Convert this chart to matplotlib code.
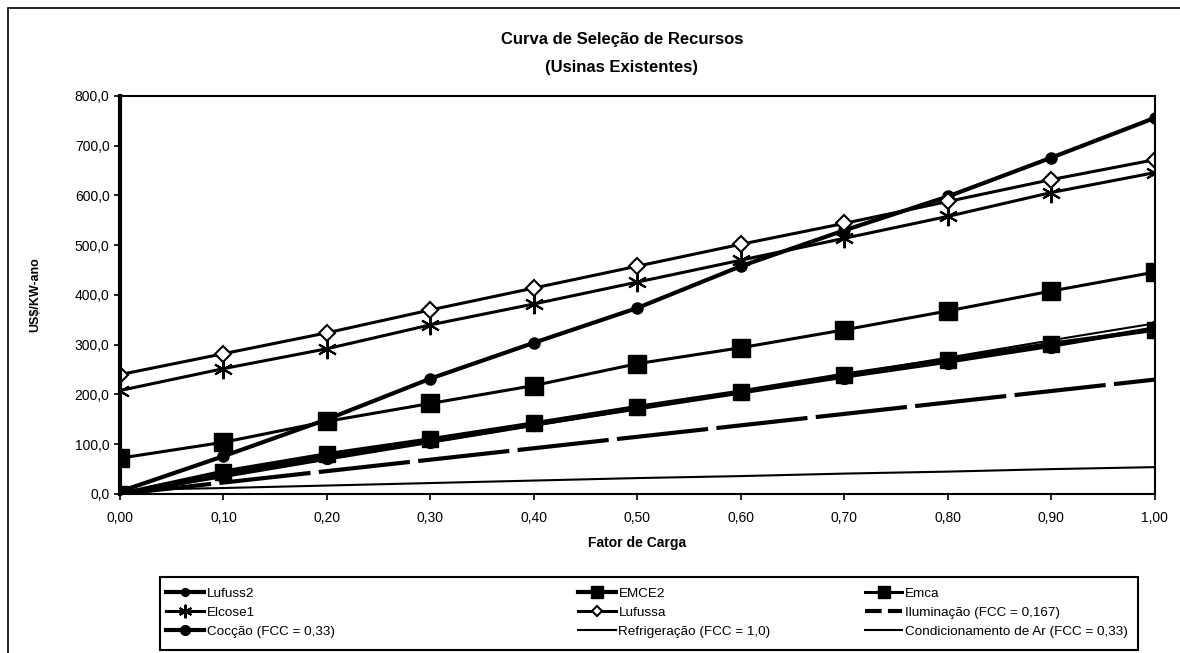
import matplotlib
matplotlib.use("Agg")
import matplotlib.pyplot as plt
from matplotlib.ticker import FuncFormatter
from matplotlib.patches import Rectangle
from matplotlib.lines import Line2D

plt.rcParams['font.family'] = ['Liberation Sans', 'DejaVu Sans']

# Fator de carga
fc = [0.0, 0.1, 0.2, 0.3, 0.4, 0.5, 0.6, 0.7, 0.8, 0.9, 1.0]

# US$/kW-ano
lufuss2 = [5, 76, 150, 232, 304, 374, 458, 530, 598, 676, 756]
emce2 = [0, 45, 80, 110, 142, 175, 206, 240, 270, 302, 330]
emca = [72, 104, 146, 182, 218, 262, 294, 330, 368, 408, 446]
elcose1 = [208, 252, 292, 340, 382, 426, 470, 514, 558, 606, 646]
lufussa = [240, 282, 324, 370, 414, 458, 502, 544, 588, 632, 672]
iluminacao = [0, 23, 46, 69, 92, 115, 138, 161, 184, 207, 230]
coccao = [0, 38, 74, 106, 140, 172, 204, 236, 266, 298, 333]
refrigeracao = [8, 12, 17, 22, 27, 32, 36, 41, 45, 50, 54]
condicionamento = [0, 34, 69, 103, 137, 171, 206, 240, 274, 309, 343]

fig = plt.figure(figsize=(11.8, 6.53), dpi=100)
ax = fig.add_axes([0.1017, 0.2435, 0.877, 0.6095])

# Plot each series
l1, = ax.plot(fc, lufuss2, color='black', lw=3, marker='o', ms=8, label='Lufuss2')
l2, = ax.plot(fc, emce2, color='black', lw=3, marker='s', ms=12, label='EMCE2')
l3, = ax.plot(fc, emca, color='black', lw=2.2, marker='s', ms=13, label='Emca')
l4, = ax.plot(fc, elcose1, color='black', lw=2.2, marker=(6, 2, 0), ms=14, mew=1.5, label='Elcose1')
l5, = ax.plot(fc, lufussa, color='black', lw=2.2, marker='D', ms=8, mfc='white', mew=1.5, label='Lufussa')
ax.plot(fc, iluminacao, color='black', lw=3, ls=(0, (22, 2)))
l7, = ax.plot(fc, coccao, color='black', lw=3, marker='o', ms=10, label='Cocção (FCC = 0,33)')
l8, = ax.plot(fc, refrigeracao, color='black', lw=1.5, label='Refrigeração (FCC = 1,0)')
l9, = ax.plot(fc, condicionamento, color='black', lw=1.5, label='Condicionamento de Ar (FCC = 0,33)')
# legend proxy with shorter dashes so the dash shows in the small key
l6 = Line2D([], [], color='black', lw=3, ls=(0, (4, 1.5)), label='Iluminação (FCC = 0,167)')

ax.set_xlim(0, 1.0)
ax.set_ylim(0, 800)
ax.set_xticks(fc)
ax.set_yticks(range(0, 801, 100))
ax.xaxis.set_major_formatter(FuncFormatter(lambda v, p: f'{v:.2f}'.replace('.', ',')))
ax.yaxis.set_major_formatter(FuncFormatter(lambda v, p: f'{v:.1f}'.replace('.', ',')))
ax.tick_params(axis='both', labelsize=10, direction='out', length=4, width=1.2)
ax.tick_params(axis='x', pad=8)
for s in ax.spines.values():
    s.set_linewidth(1.5)
ax.spines['left'].set_linewidth(3)

ax.set_xlabel('Fator de Carga', fontsize=10, fontweight='bold', labelpad=8)
ax.set_ylabel('US$/KW-ano', fontsize=9, fontweight='bold', labelpad=24)
fig.text(0.527, 0.94, 'Curva de Seleção de Recursos', ha='center', va='center',
         fontsize=12, fontweight='bold')
fig.text(0.527, 0.897, '(Usinas Existentes)', ha='center', va='center',
         fontsize=12, fontweight='bold')

# Legend: three one-column legends inside a shared frame
cols = [[l1, l4, l7], [l2, l5, l8], [l3, l6, l9]]
col_x = [0.134, 0.483, 0.726]
for hs, x in zip(cols, col_x):
    leg = fig.legend(handles=hs, labels=[h.get_label() for h in hs],
                     loc='upper left', bbox_to_anchor=(x, 0.113), frameon=False,
                     fontsize=9.7, handlelength=2.8, handletextpad=0.2,
                     labelspacing=0.5, borderpad=0.1, markerscale=0.7)
fig.patches.append(Rectangle((0.136, 0.004), 0.828, 0.112, transform=fig.transFigure,
                             fill=False, lw=1.5, ec='black'))

# Outer chart border
fig.patches.append(Rectangle((0.007, -0.01), 1.1, 0.998, transform=fig.transFigure,
                             fill=False, lw=1.2, ec='black'))

plt.savefig('out.png', dpi=100)
